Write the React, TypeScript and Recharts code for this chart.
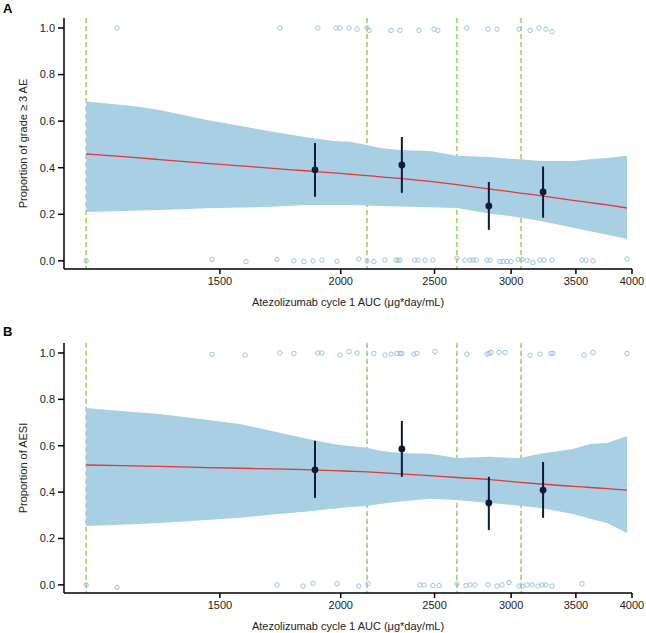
import React from 'react'
import { ComposedChart, Area, Line, Scatter, ErrorBar, XAxis, YAxis, CartesianGrid } from 'recharts'

// AUC grid used for the fitted curve and its confidence band
const gridAuc = [1091, 1220, 1300, 1454, 1573, 1702, 1836, 1963, 2044, 2129, 2196, 2303, 2473, 2637, 2853, 2992, 3064, 3213, 3476, 3620, 3770, 3953]

const fitA = [0.459, 0.444, 0.435, 0.419, 0.408, 0.397, 0.387, 0.378, 0.372, 0.366, 0.361, 0.354, 0.341, 0.327, 0.308, 0.297, 0.291, 0.28, 0.26, 0.25, 0.24, 0.227]
const lowA = [0.21, 0.215, 0.218, 0.226, 0.229, 0.232, 0.24, 0.24, 0.24, 0.238, 0.236, 0.233, 0.23, 0.227, 0.202, 0.193, 0.185, 0.172, 0.142, 0.127, 0.112, 0.094]
const highA = [0.684, 0.665, 0.648, 0.605, 0.58, 0.554, 0.532, 0.515, 0.512, 0.498, 0.485, 0.476, 0.472, 0.451, 0.446, 0.438, 0.436, 0.429, 0.429, 0.436, 0.442, 0.451]

const fitB = [0.517, 0.513, 0.511, 0.506, 0.503, 0.5, 0.497, 0.493, 0.49, 0.487, 0.484, 0.479, 0.471, 0.463, 0.454, 0.446, 0.442, 0.435, 0.425, 0.42, 0.415, 0.409]
const lowB = [0.254, 0.261, 0.267, 0.28, 0.289, 0.303, 0.315, 0.328, 0.336, 0.34, 0.349, 0.36, 0.371, 0.366, 0.353, 0.345, 0.341, 0.332, 0.306, 0.285, 0.267, 0.224]
const highB = [0.763, 0.746, 0.737, 0.712, 0.694, 0.662, 0.632, 0.608, 0.599, 0.591, 0.578, 0.569, 0.565, 0.547, 0.552, 0.548, 0.547, 0.565, 0.586, 0.608, 0.612, 0.642]

// observed proportions by exposure quartile
const quartAuc = [1881, 2313, 2845, 3237]
const obsA = [0.391, 0.412, 0.236, 0.296]
const obsLowA = [0.275, 0.292, 0.133, 0.185]
const obsHighA = [0.506, 0.532, 0.339, 0.405]
const obsB = [0.496, 0.586, 0.353, 0.409]
const obsLowB = [0.375, 0.466, 0.237, 0.289]
const obsHighB = [0.621, 0.707, 0.466, 0.53]

// quartile boundaries
const cutAuc = [1091, 2129, 2637, 3072]

// individual patients (jittered around 0 / 1)
const rugTopAx = [1174, 1730, 1894, 1977, 1996, 2040, 2079, 2129, 2139, 2254, 2303, 2409, 2497, 2520, 2700, 2839, 2901, 3057, 3138, 3206, 3259, 3306]
const rugTopAy = [1, 1, 1, 1, 1, 1, 0.995, 1, 0.99, 0.99, 0.99, 0.99, 0.995, 0.99, 1, 0.995, 0.995, 0.995, 0.99, 1, 0.995, 0.984]
const rugBotAx = [1091, 1472, 1596, 1718, 1789, 1832, 1872, 1912, 1982, 2088, 2129, 2164, 2221, 2281, 2292, 2303, 2386, 2403, 2444, 2490, 2637, 2688, 2720, 2739, 2760, 2833, 2853, 2922, 2942, 2971, 2999, 3050, 3079, 3116, 3160, 3213, 3244, 3306, 3551, 3585, 3645, 3953]
const rugBotAy = [0, 0.006, -0.003, 0.006, 0, -0.003, 0, 0.003, -0.002, 0.008, 0, -0.003, 0.003, 0.003, 0.003, 0.003, 0.003, 0.003, 0.003, 0.003, 0.011, 0.003, 0.003, 0.003, 0.003, 0.003, 0.003, -0.003, -0.003, -0.003, -0.003, 0.006, 0.006, 0.003, -0.007, 0.003, 0.003, 0.003, 0.003, 0.003, 0, 0.008]
const rugTopBx = [1472, 1593, 1730, 1789, 1894, 1912, 1996, 2040, 2079, 2164, 2221, 2254, 2286, 2303, 2313, 2380, 2397, 2502, 2700, 2833, 2846, 2860, 2915, 2957, 3138, 3213, 3298, 3313, 3568, 3645, 3953]
const rugTopBy = [0.994, 0.991, 1, 0.998, 1, 1, 0.991, 1.006, 1, 0.998, 0.991, 0.995, 0.998, 0.998, 0.998, 0.995, 0.998, 1.006, 0.995, 0.995, 0.998, 1.002, 1.002, 1.002, 0.99, 0.995, 0.998, 0.998, 0.991, 1.002, 0.998]
const rugBotBx = [1091, 1174, 1718, 1828, 1872, 1982, 2088, 2134, 2415, 2438, 2490, 2527, 2637, 2694, 2720, 2753, 2839, 2901, 2936, 2985, 3057, 3079, 3116, 3153, 3198, 3229, 3259, 3306, 3551]
const rugBotBy = [0, -0.011, 0, -0.005, 0.007, 0.005, -0.005, 0.005, 0, 0, -0.003, -0.003, 0.005, -0.003, 0, 0, 0, -0.005, 0, 0.01, -0.005, -0.005, 0, 0, -0.005, 0, 0, -0.005, 0.005]

const xTicks = [1500, 2000, 2500, 3000, 3500, 4000]
const yTicks = [0, 0.2, 0.4, 0.6, 0.8, 1.0]

const FONT = '"Liberation Sans", Arial, sans-serif'
const BAND = '#a9cfe4'
const RUG = '#9cc4dc'
const FIT = '#e0393e'
const OBS = '#0d1b38'
const CUT = '#8cc63f'

const zip = (xs: number[], ys: number[]) => xs.map((x, i) => ({ x, y: ys[i] }))

const RugDot = (props: any) => {
  const { cx, cy } = props
  if (cx == null || cy == null) return null
  return <circle cx={cx} cy={cy} r={2.2} fill="none" stroke={RUG} strokeWidth={1} />
}

const ObsDot = (props: any) => {
  const { cx, cy } = props
  if (cx == null || cy == null) return null
  return <circle cx={cx} cy={cy} r={3.4} fill={OBS} />
}

interface PanelProps {
  height: number
  top: number
  xAxisHeight: number
  labelOffset: number
  yLabel: string
  fit: number[]
  low: number[]
  high: number[]
  obs: number[]
  obsLow: number[]
  obsHigh: number[]
  rugTop: { x: number; y: number }[]
  rugBot: { x: number; y: number }[]
}

const Panel = (p: PanelProps) => {
  const data = gridAuc.map((x, i) => ({ x, fit: p.fit[i], band: [p.low[i], p.high[i]] }))
  const obsData = quartAuc.map((x, i) => ({
    x,
    y: p.obs[i],
    err: [p.obs[i] - p.obsLow[i], p.obsHigh[i] - p.obs[i]],
  }))

  return (
    <ComposedChart
      width={646}
      height={p.height}
      data={data}
      margin={{ top: p.top, right: 14, bottom: 0, left: 0 }}
    >
      {/* quartile cut lines sit under the band, so they are drawn as grid lines */}
      <CartesianGrid
        horizontal={false}
        vertical
        verticalValues={cutAuc}
        stroke={CUT}
        strokeWidth={1.3}
        strokeDasharray="5 3"
        fill="none"
      />
      <XAxis
        dataKey="x"
        type="number"
        scale="log"
        domain={[1035, 4000]}
        allowDataOverflow
        ticks={xTicks}
        height={p.xAxisHeight}
        stroke="#000"
        strokeWidth={1.5}
        tickSize={5}
        tickMargin={3}
        tick={{ fill: '#222', fontSize: 11, fontFamily: FONT }}
        label={{ value: 'Atezolizumab cycle 1 AUC (μg*day/mL)', position: 'insideBottom', offset: p.labelOffset, fill: '#222', fontSize: 11, fontFamily: FONT }}
      />
      <YAxis
        type="number"
        domain={[-0.035, 1.043]}
        allowDataOverflow
        ticks={yTicks}
        tickFormatter={(v: number) => v.toFixed(1)}
        width={64}
        stroke="#000"
        strokeWidth={1.5}
        tickSize={6}
        tickMargin={3}
        tick={{ fill: '#222', fontSize: 11, fontFamily: FONT }}
        label={{ value: p.yLabel, angle: -90, position: 'insideLeft', offset: 23, fill: '#222', fontSize: 11, fontFamily: FONT, style: { textAnchor: 'middle' } }}
      />
      <Area dataKey="band" stroke="none" fill={BAND} fillOpacity={1} isAnimationActive={false} />
      <Line dataKey="fit" type="monotone" stroke={FIT} strokeWidth={1.3} dot={false} isAnimationActive={false} />
      <Scatter data={p.rugTop} dataKey="y" shape={<RugDot />} isAnimationActive={false} />
      <Scatter data={p.rugBot} dataKey="y" shape={<RugDot />} isAnimationActive={false} />
      <Scatter data={obsData} dataKey="y" shape={<ObsDot />} isAnimationActive={false}>
        <ErrorBar dataKey="err" direction="y" width={0} stroke={OBS} strokeWidth={2} isAnimationActive={false} />
      </Scatter>
    </ComposedChart>
  )
}

const panelLetter = (top: number): React.CSSProperties => ({
  position: 'absolute',
  left: 3,
  top,
  fontFamily: FONT,
  fontWeight: 'bold',
  fontSize: 13,
  lineHeight: '13px',
  color: '#000',
})

export default function App() {
  return (
    <div style={{ position: 'absolute', left: 0, top: 0, width: 646, height: 633, background: '#fff' }}>
      <div style={panelLetter(2)}>A</div>
      <div style={panelLetter(325)}>B</div>
      <Panel
        height={315}
        top={18}
        xAxisHeight={46}
        labelOffset={9}
        yLabel="Proportion of grade ≥ 3 AE"
        fit={fitA}
        low={lowA}
        high={highA}
        obs={obsA}
        obsLow={obsLowA}
        obsHigh={obsHighA}
        rugTop={zip(rugTopAx, rugTopAy)}
        rugBot={zip(rugBotAx, rugBotAy)}
      />
      <Panel
        height={318}
        top={28}
        xAxisHeight={40}
        labelOffset={3}
        yLabel="Proportion of AESI"
        fit={fitB}
        low={lowB}
        high={highB}
        obs={obsB}
        obsLow={obsLowB}
        obsHigh={obsHighB}
        rugTop={zip(rugTopBx, rugTopBy)}
        rugBot={zip(rugBotBx, rugBotBy)}
      />
    </div>
  )
}
